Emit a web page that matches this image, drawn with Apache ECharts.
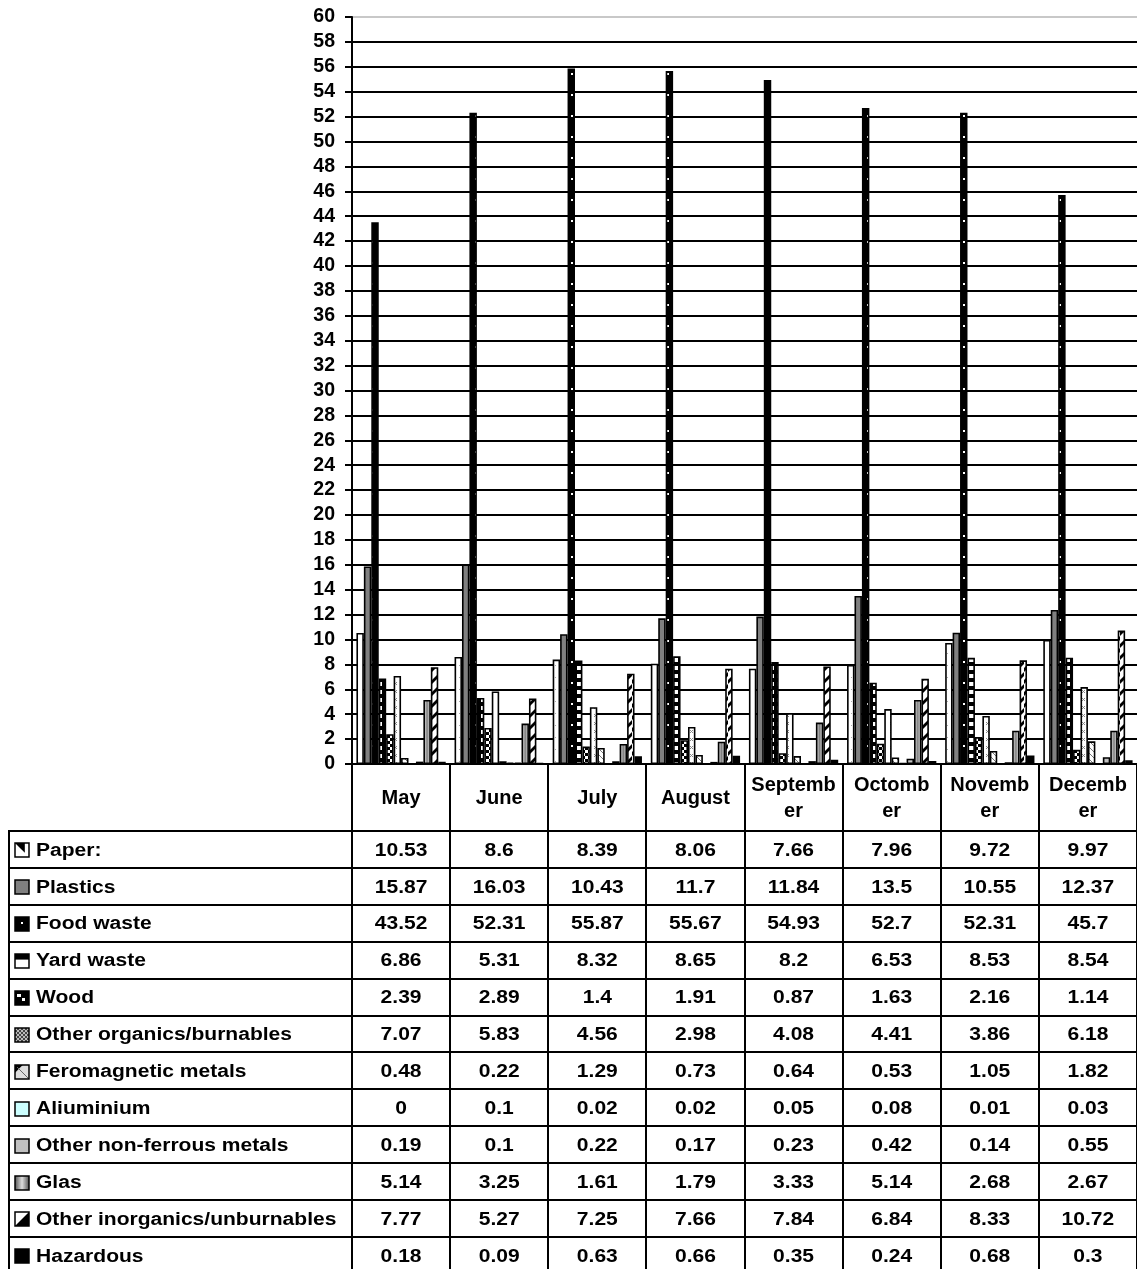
<!DOCTYPE html>
<html>
<head>
<meta charset="utf-8">
<script src="https://cdn.jsdelivr.net/npm/echarts@6/dist/echarts.min.js"></script>
<style>
  html, body { margin: 0; padding: 0; background: #fff; }
  #chart { width: 1137px; height: 1269px; }
</style>
</head>
<body>
<div id="chart"></div>
<script>
// Monthly waste composition (%)
const months = ['May', 'June', 'July', 'August', 'September', 'Octomber', 'November', 'December'];

const paper           = [10.53, 8.6, 8.39, 8.06, 7.66, 7.96, 9.72, 9.97];
const plastics        = [15.87, 16.03, 10.43, 11.7, 11.84, 13.5, 10.55, 12.37];
const foodWaste       = [43.52, 52.31, 55.87, 55.67, 54.93, 52.7, 52.31, 45.7];
const yardWaste       = [6.86, 5.31, 8.32, 8.65, 8.2, 6.53, 8.53, 8.54];
const wood            = [2.39, 2.89, 1.4, 1.91, 0.87, 1.63, 2.16, 1.14];
const otherOrganics   = [7.07, 5.83, 4.56, 2.98, 4.08, 4.41, 3.86, 6.18];
const feromagnetic    = [0.48, 0.22, 1.29, 0.73, 0.64, 0.53, 1.05, 1.82];
const aluminium       = [0, 0.1, 0.02, 0.02, 0.05, 0.08, 0.01, 0.03];
const nonFerrous      = [0.19, 0.1, 0.22, 0.17, 0.23, 0.42, 0.14, 0.55];
const glas            = [5.14, 3.25, 1.61, 1.79, 3.33, 5.14, 2.68, 2.67];
const otherInorganics = [7.77, 5.27, 7.25, 7.66, 7.84, 6.84, 8.33, 10.72];
const hazardous       = [0.18, 0.09, 0.63, 0.66, 0.35, 0.24, 0.68, 0.3];

const seriesNames = ['Paper:', 'Plastics', 'Food waste', 'Yard waste', 'Wood',
  'Other organics/burnables', 'Feromagnetic metals', 'Aliuminium',
  'Other non-ferrous metals', 'Glas', 'Other inorganics/unburnables', 'Hazardous'];
const seriesData = [paper, plastics, foodWaste, yardWaste, wood, otherOrganics,
  feromagnetic, aluminium, nonFerrous, glas, otherInorganics, hazardous];

const yMin = 0, yMax = 60, yStep = 2;

const FONT_FAMILY = '"Liberation Sans", Arial, Helvetica, sans-serif';

// ---- fill patterns ----
function canvasOf(w, h, draw) {
  const c = document.createElement('canvas');
  c.width = w; c.height = h;
  const ctx = c.getContext('2d');
  draw(ctx, w, h);
  return c;
}
function pattern(w, h, draw) {
  return { image: canvasOf(w, h, draw), repeat: 'repeat' };
}

const fills = [
  // Paper: white with faint grey dots
  pattern(8, 12, (g) => { g.fillStyle = '#fff'; g.fillRect(0, 0, 8, 12); g.fillStyle = '#aaa'; g.fillRect(3, 5, 1, 1); }),
  // Plastics
  '#808080',
  // Food waste: black with small white dots
  pattern(8, 21, (g) => { g.fillStyle = '#000'; g.fillRect(0, 0, 8, 21); g.fillStyle = '#fff'; g.fillRect(3, 10, 2, 2); }),
  // Yard waste: black with white squares
  pattern(8, 8, (g) => { g.fillStyle = '#000'; g.fillRect(0, 0, 8, 8); g.fillStyle = '#fff'; g.fillRect(1, 2, 5, 4); }),
  // Wood: black/white check
  pattern(6, 6, (g) => { g.fillStyle = '#fff'; g.fillRect(0, 0, 6, 6); g.fillStyle = '#000'; g.fillRect(0, 0, 3, 3); g.fillRect(3, 3, 3, 3); }),
  // Other organics: white with grey crosses
  pattern(8, 8, (g) => { g.fillStyle = '#fff'; g.fillRect(0, 0, 8, 8); g.fillStyle = '#888';
    g.fillRect(2, 2, 1, 1); g.fillRect(4, 2, 1, 1); g.fillRect(3, 3, 1, 1); g.fillRect(2, 4, 1, 1); g.fillRect(4, 4, 1, 1); }),
  // Feromagnetic metals: grey diagonal
  pattern(6, 6, (g) => { g.fillStyle = '#fff'; g.fillRect(0, 0, 6, 6); g.fillStyle = '#777';
    for (let i = 0; i < 6; i++) g.fillRect(i, i, 1, 1); }),
  // Aluminium
  '#ccffff',
  // Other non-ferrous metals
  '#c0c0c0',
  // Glas: grey band down the middle
  { type: 'linear', x: 0, y: 0, x2: 1, y2: 0, colorStops: [
    { offset: 0, color: '#ffffff' }, { offset: 0.5, color: '#808080' }, { offset: 1, color: '#ffffff' } ] },
  // Other inorganics: bold diagonal stripes
  pattern(8, 12, (g) => { g.fillStyle = '#fff'; g.fillRect(0, 0, 8, 12); g.fillStyle = '#000';
    g.beginPath(); g.moveTo(0, 12); g.lineTo(0, 8); g.lineTo(8, 0); g.lineTo(8, 4); g.closePath(); g.fill(); }),
  // Hazardous
  '#000'
];

// small legend keys shown in the data table
const keyDraw = [
  (g, s) => { g.fillStyle = '#fff'; g.fillRect(0, 0, s, s); g.fillStyle = '#000';
    g.beginPath(); g.moveTo(0, 0); g.lineTo(s * 0.7, 0); g.lineTo(s * 0.7, s * 0.7); g.closePath(); g.fill(); },
  (g, s) => { g.fillStyle = '#808080'; g.fillRect(0, 0, s, s); },
  (g, s) => { g.fillStyle = '#000'; g.fillRect(0, 0, s, s); g.fillStyle = '#fff'; g.fillRect(s / 2 - 1, s / 2 - 2, 2, 2); },
  (g, s) => { g.fillStyle = '#fff'; g.fillRect(0, 0, s, s); g.fillStyle = '#000'; g.fillRect(0, 0, s, s * 0.4); },
  (g, s) => { g.fillStyle = '#000'; g.fillRect(0, 0, s, s); g.fillStyle = '#fff'; g.fillRect(2, 3, 4, 3); g.fillRect(7, 7, 3, 3); },
  (g, s) => { for (let i = 0; i < s; i += 2) for (let j = 0; j < s; j += 2) { g.fillStyle = ((i + j) / 2) % 2 ? '#444' : '#bbb'; g.fillRect(i, j, 2, 2); } },
  (g, s) => { g.fillStyle = '#ddd'; g.fillRect(0, 0, s, s); g.fillStyle = '#000';
    g.beginPath(); g.moveTo(0, 0); g.lineTo(s * 0.55, 0); g.lineTo(0, s * 0.55); g.closePath(); g.fill();
    g.fillStyle = '#666'; for (let i = 2; i < s; i++) g.fillRect(i, i, 1, 1); },
  (g, s) => { g.fillStyle = '#ccffff'; g.fillRect(0, 0, s, s); },
  (g, s) => { g.fillStyle = '#c0c0c0'; g.fillRect(0, 0, s, s); },
  (g, s) => { const gr = g.createLinearGradient(0, 0, s, 0); gr.addColorStop(0, '#555'); gr.addColorStop(0.5, '#ddd'); gr.addColorStop(1, '#555');
    g.fillStyle = gr; g.fillRect(0, 0, s, s); },
  (g, s) => { g.fillStyle = '#fff'; g.fillRect(0, 0, s, s); g.fillStyle = '#000';
    g.beginPath(); g.moveTo(s, 0); g.lineTo(s, s); g.lineTo(0, s); g.closePath(); g.fill(); },
  (g, s) => { g.fillStyle = '#000'; g.fillRect(0, 0, s, s); }
];

const chart = echarts.init(document.getElementById('chart'), null, { renderer: 'canvas' });

// grid lines: black, except the faint top one
const gridColors = [];
for (let v = yMin; v <= yMax; v += yStep) gridColors.push(v === yMax ? '#c8c8c8' : '#000');

const series = seriesNames.map((name, i) => ({
  name,
  type: 'bar',
  data: seriesData[i],
  barGap: '0%',
  barCategoryGap: '9%',
  itemStyle: { color: fills[i], borderColor: '#000', borderWidth: 1.6 },
  emphasis: { disabled: true },
  animation: false
}));

chart.setOption({
  animation: false,
  backgroundColor: '#fff',
  grid: { left: 352, right: 0, top: 17, bottom: 505, containLabel: false },
  xAxis: {
    type: 'category',
    data: months,
    axisLine: { lineStyle: { color: '#000', width: 2 } },
    axisTick: { show: false },
    axisLabel: {
      interval: 0,
      margin: 34,
      verticalAlign: 'middle',
      color: '#000',
      fontFamily: FONT_FAMILY,
      fontWeight: 'bold',
      fontSize: 20,
      lineHeight: 26,
      width: 85.5,
      overflow: 'breakAll'
    }
  },
  yAxis: {
    type: 'value',
    min: yMin, max: yMax, interval: yStep,
    axisLine: { show: true, lineStyle: { color: '#000', width: 2 } },
    axisTick: { show: true, length: 7, lineStyle: { color: '#000', width: 2 } },
    axisLabel: { margin: 17, color: '#000', fontFamily: FONT_FAMILY, fontWeight: 'bold', fontSize: 19.5 },
    splitLine: { show: true, lineStyle: { color: gridColors, width: 2 } }
  },
  series
});

// ---- data table under the plot ----
const TABLE_LEFT = 9;
const HEADER_BOTTOM = 831;
const ROW_H = 36.9;
const KEY_X = 15, KEY_SIZE = 14, LABEL_X = 36;
const TABLE_FONT = 'bold 18.8px ' + FONT_FAMILY;
const TEXT_SCALE_X = 1.12;

function buildTable() {
  const c0 = chart.convertToPixel({ xAxisIndex: 0 }, months[0]);
  const c1 = chart.convertToPixel({ xAxisIndex: 0 }, months[1]);
  const band = c1 - c0;
  const plotLeft = c0 - band / 2;
  const plotRight = plotLeft + band * months.length;
  const axisY = chart.convertToPixel({ yAxisIndex: 0 }, yMin);
  const bottom = HEADER_BOTTOM + ROW_H * seriesNames.length;

  const els = [];
  const line = (x1, y1, x2, y2) => els.push({
    type: 'line', silent: true, z: 10,
    shape: { x1, y1, x2, y2 },
    style: { stroke: '#000', lineWidth: 2 }
  });

  // vertical column separators
  for (let k = 0; k <= months.length; k++) {
    const x = Math.round(plotLeft + band * k);
    line(x, axisY, x, bottom + 2);
  }
  line(TABLE_LEFT, HEADER_BOTTOM, TABLE_LEFT, bottom + 2);
  // horizontal row lines
  for (let r = 0; r <= seriesNames.length; r++) {
    const y = Math.round(HEADER_BOTTOM + ROW_H * r);
    line(TABLE_LEFT - 1, y, plotRight, y);
  }

  seriesNames.forEach((name, r) => {
    const cy = HEADER_BOTTOM + ROW_H * r + ROW_H / 2 + 1;
    // legend key
    els.push({
      type: 'image', silent: true, z: 11,
      style: { image: canvasOf(KEY_SIZE, KEY_SIZE, (g, w) => keyDraw[r](g, w)),
               x: KEY_X, y: Math.round(cy - KEY_SIZE / 2), width: KEY_SIZE, height: KEY_SIZE }
    });
    els.push({
      type: 'rect', silent: true, z: 12,
      shape: { x: KEY_X, y: Math.round(cy - KEY_SIZE / 2), width: KEY_SIZE, height: KEY_SIZE },
      style: { fill: null, stroke: '#000', lineWidth: 1.5 }
    });
    // series name
    els.push({
      type: 'text', silent: true, z: 12,
      x: LABEL_X, y: cy, scaleX: TEXT_SCALE_X,
      style: { text: name, x: 0, y: 0, font: TABLE_FONT, fill: '#000',
               textAlign: 'left', textVerticalAlign: 'middle', verticalAlign: 'middle' }
    });
    // values
    seriesData[r].forEach((v, k) => {
      els.push({
        type: 'text', silent: true, z: 12,
        x: plotLeft + band * k + band / 2, y: cy, scaleX: TEXT_SCALE_X,
        style: { text: String(v), x: 0, y: 0, font: TABLE_FONT, fill: '#000',
                 textAlign: 'center', textVerticalAlign: 'middle', verticalAlign: 'middle' }
      });
    });
  });

  chart.setOption({ graphic: { elements: els } });
}

buildTable();
</script>
</body>
</html>
